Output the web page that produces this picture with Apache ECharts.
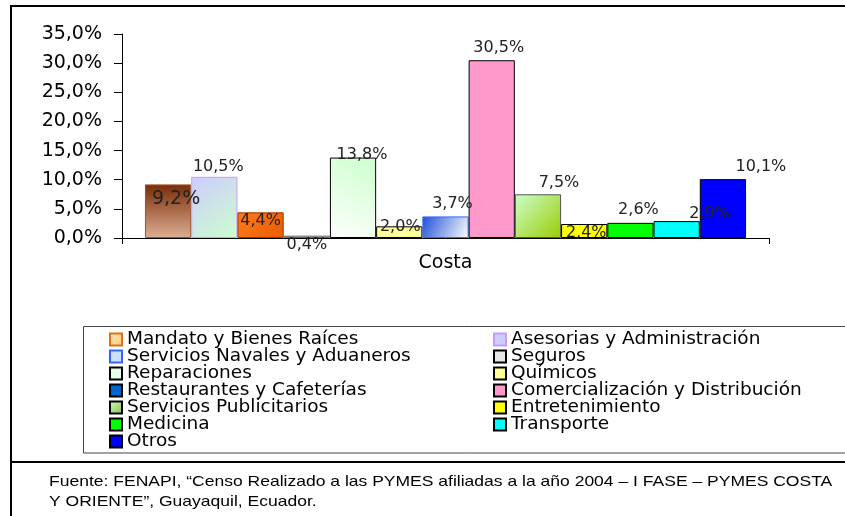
<!DOCTYPE html>
<html>
<head>
<meta charset="utf-8">
<script src="https://cdn.jsdelivr.net/npm/echarts@6/dist/echarts.min.js"></script>
<style>
html, body { margin: 0; padding: 0; background: #fff; }
#main { width: 845px; height: 516px; }
</style>
</head>
<body>
<div id="main"></div>
<script>
// datos
var categorias = ['Costa'];
var sectores = ['Mandato y Bienes Raíces', 'Asesorias y Administración', 'Servicios Navales y Aduaneros',
    'Seguros', 'Reparaciones', 'Químicos', 'Restaurantes y Cafeterías', 'Comercialización y Distribución',
    'Servicios Publicitarios', 'Entretenimiento', 'Medicina', 'Transporte', 'Otros'];
var porcentajes = [9.2, 10.5, 4.4, 0.4, 13.8, 2.0, 3.7, 30.5, 7.5, 2.4, 2.6, 2.9, 10.1];
var fuente = ['Fuente: FENAPI, \u201cCenso Realizado a las PYMES afiliadas a la a\u00f1o 2004 \u2013 I FASE \u2013 PYMES COSTA',
    'Y ORIENTE\u201d, Guayaquil, Ecuador.'];

var myChart = echarts.init(document.getElementById('main'));

function grad(x, y, x2, y2, c1, c2) {
    return new echarts.graphic.LinearGradient(x, y, x2, y2, [
        { offset: 0, color: c1 }, { offset: 1, color: c2 }
    ]);
}
function pct(v) {
    return v.toFixed(1).replace('.', ',') + '%';
}

// estilos de las barras (como en el original de Excel)
var estilosBarra = [
    { color: grad(0, 0, 0, 1, '#7a2c08', '#dcae92'), borderColor: '#a0522d' },
    { color: grad(0, 0, 1, 1, '#ccccff', '#ccffcc'), borderColor: '#cc99ff' },
    { color: grad(0, 0, 1, 1, '#ff7a1a', '#e85d00'), borderColor: '#993300' },
    { color: '#c0c0c0', borderColor: '#666666' },
    { color: grad(1, 0, 0, 1, '#ccffcc', '#ffffff'), borderColor: '#000' },
    { color: '#ffff99', borderColor: '#000' },
    { color: grad(0, 0, 1, 1, '#1f4fd8', '#ffffff'), borderColor: '#3366ff' },
    { color: '#ff99cc', borderColor: '#000' },
    { color: grad(0, 0, 1, 1, '#ccffcc', '#99cc00'), borderColor: '#555' },
    { color: '#ffff00', borderColor: '#000' },
    { color: '#00ff00', borderColor: '#000' },
    { color: '#00ffff', borderColor: '#000' },
    { color: '#0000ff', borderColor: '#000' }
];
// colores de la leyenda (no coinciden del todo con las barras)
var estilosLeyenda = [
    { color: grad(0, 0, 1, 1, '#ffe9a8', '#ffc890'), borderColor: '#e07010' },
    { color: '#ccccff', borderColor: '#cc99ff' },
    { color: '#cce0ff', borderColor: '#3366ff' },
    { color: '#e6e6e6', borderColor: '#000' },
    { color: '#e8ffe8', borderColor: '#000' },
    { color: '#ffff99', borderColor: '#000' },
    { color: '#0066cc', borderColor: '#000' },
    { color: '#ff99cc', borderColor: '#000' },
    { color: grad(0, 0, 1, 1, '#ccffcc', '#88bb44'), borderColor: '#000' },
    { color: '#ffff00', borderColor: '#000' },
    { color: '#00ff00', borderColor: '#000' },
    { color: '#00ffff', borderColor: '#000' },
    { color: '#0000ff', borderColor: '#000' }
];
var etiquetas = [
    { position: 'insideTop', offset: [8, 0], fontSize: 19 },
    { position: 'top', offset: [4, 3] },
    { position: 'insideTop', offset: [0, -5] },
    { position: 'bottom', offset: [0, -6] },
    { position: 'top', offset: [9, 10] },
    { position: 'top', offset: [1, 14] },
    { position: 'top', offset: [7, 0] },
    { position: 'top', offset: [7, 1] },
    { position: 'top', offset: [21, 2] },
    { position: 'insideTop', offset: [2, -4] },
    { position: 'top', offset: [8, 0] },
    { position: 'top', offset: [33, 6] },
    { position: 'top', offset: [38, 1] }
];

var series = sectores.map(function (nombre, i) {
    return {
        name: nombre,
        type: 'bar',
        barGap: 0,
        barCategoryGap: '7.1%',
        data: [porcentajes[i]],
        itemStyle: Object.assign({ borderWidth: 1 }, estilosBarra[i]),
        label: Object.assign({
            show: true,
            fontSize: 16,
            color: '#222',
            fontFamily: 'DejaVu Sans',
            formatter: function (p) { return pct(p.value); }
        }, etiquetas[i]),
        emphasis: { disabled: true }
    };
});

function itemsLeyenda(par) {
    var out = [];
    sectores.forEach(function (n, i) {
        if (i % 2 === par) out.push({ name: n, itemStyle: estilosLeyenda[i] });
    });
    return out;
}
var leyendaBase = {
    orient: 'vertical',
    top: 330,
    padding: 0,
    itemGap: -2,
    itemWidth: 12,
    itemHeight: 12,
    icon: 'rect',
    selectedMode: false,
    textStyle: { fontSize: 18.5, lineHeight: 17, color: '#000', fontFamily: 'DejaVu Sans' }
};

var option = {
    animation: false,
    textStyle: { fontFamily: 'DejaVu Sans' },
    grid: { left: 122, right: 76, top: 34, bottom: 278 },
    legend: [
        Object.assign({ left: 109, data: itemsLeyenda(0) }, leyendaBase),
        Object.assign({ left: 493, data: itemsLeyenda(1) }, leyendaBase)
    ],
    xAxis: {
        type: 'category',
        data: categorias,
        axisLine: { lineStyle: { color: '#000' } },
        axisTick: { show: true, length: 6, lineStyle: { color: '#000' } },
        axisLabel: { fontSize: 19, color: '#000', margin: 16 }
    },
    yAxis: {
        type: 'value',
        min: 0,
        max: 35,
        interval: 5,
        axisLine: { show: true, lineStyle: { color: '#000' } },
        axisTick: { show: true, length: 8, lineStyle: { color: '#000' } },
        splitLine: { show: false },
        axisLabel: { fontSize: 19, color: '#000', margin: 20, formatter: pct }
    },
    graphic: [
        { type: 'rect', shape: { x: 11, y: 6, width: 850, height: 456 },
          style: { fill: 'none', stroke: '#000', lineWidth: 2 }, silent: true },
        { type: 'rect', shape: { x: 83.5, y: 326.5, width: 800, height: 126.5 },
          style: { fill: 'none', stroke: '#444', lineWidth: 1 }, silent: true },
        { type: 'rect', shape: { x: 11, y: 462, width: 850, height: 80 },
          style: { fill: 'none', stroke: '#000', lineWidth: 2 }, silent: true },
        { type: 'text', x: 49, y: 482, scaleX: 1.2,
          style: { text: fuente[0], font: '14.6px "Liberation Sans"', fill: '#000', verticalAlign: 'middle' } },
        { type: 'text', x: 49, y: 502, scaleX: 1.2,
          style: { text: fuente[1], font: '14.6px "Liberation Sans"', fill: '#000', verticalAlign: 'middle' } }
    ],
    series: series
};

myChart.setOption(option);
</script>
</body>
</html>
